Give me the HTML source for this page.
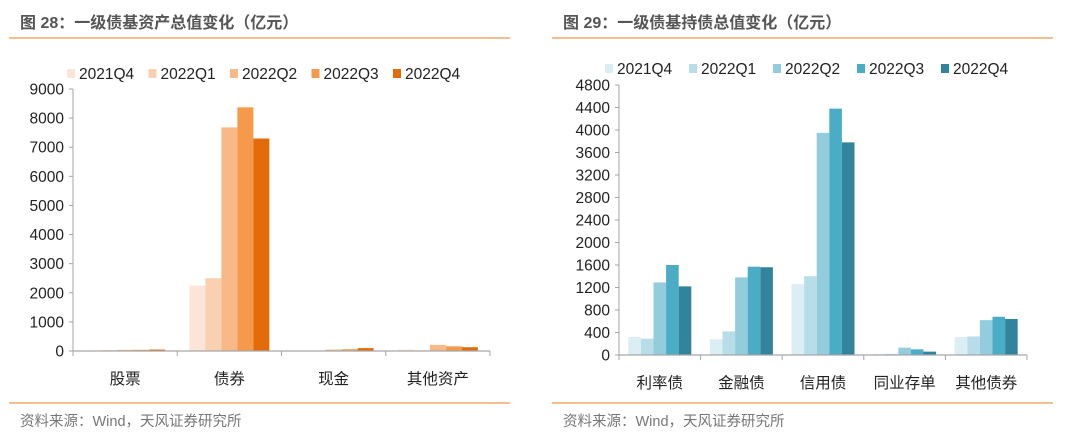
<!DOCTYPE html>
<html><head><meta charset="utf-8">
<style>
body{margin:0;width:1080px;height:434px;background:#fff;overflow:hidden;font-family:"Liberation Sans","Noto Sans CJK SC",sans-serif;}
svg{position:absolute;left:0;top:0}
</style></head>
<body>
<svg id="s" width="1080" height="434" xmlns="http://www.w3.org/2000/svg">
<text x="20" y="28" font-size="16" font-weight="bold" fill="#555" font-family="Liberation Sans,Noto Sans CJK SC,sans-serif">图 28：一级债基资产总值变化（亿元）</text>
<line x1="9" y1="38" x2="510" y2="38" stroke="#f4a86a" stroke-width="1.5"/>
<line x1="9" y1="403" x2="510" y2="403" stroke="#f4a86a" stroke-width="1.5"/>
<text x="20" y="426" font-size="14.5" fill="#777" font-family="Liberation Sans,Noto Sans CJK SC,sans-serif">资料来源：Wind，天风证券研究所</text>
<text x="563" y="28" font-size="16" font-weight="bold" fill="#555" font-family="Liberation Sans,Noto Sans CJK SC,sans-serif">图 29：一级债基持债总值变化（亿元）</text>
<line x1="552" y1="38" x2="1053" y2="38" stroke="#f4a86a" stroke-width="1.5"/>
<line x1="552" y1="403" x2="1053" y2="403" stroke="#f4a86a" stroke-width="1.5"/>
<text x="563" y="426" font-size="14.5" fill="#777" font-family="Liberation Sans,Noto Sans CJK SC,sans-serif">资料来源：Wind，天风证券研究所</text>
</svg>
<script>
const seriesNames=["2021Q4","2022Q1","2022Q2","2022Q3","2022Q4"];
const leftCategories=["股票","债券","现金","其他资产"];
const leftQ4_2021=[20,2250,0,50];
const leftQ1_2022=[30,2500,0,20];
const leftQ2_2022=[40,7680,50,210];
const leftQ3_2022=[40,8370,60,160];
const leftQ4_2022=[50,7300,100,130];
const leftTicks=[0,1000,2000,3000,4000,5000,6000,7000,8000,9000];
const rightCategories=["利率债","金融债","信用债","同业存单","其他债券"];
const rightQ4_2021=[320,280,1260,20,320];
const rightQ1_2022=[290,420,1400,20,330];
const rightQ2_2022=[1290,1380,3950,130,620];
const rightQ3_2022=[1600,1570,4380,100,680];
const rightQ4_2022=[1220,1560,3780,60,640];
const rightTicks=[0,400,800,1200,1600,2000,2400,2800,3200,3600,4000,4400,4800];

const NS="http://www.w3.org/2000/svg";
const svg=document.getElementById('s');
function mk(tag,attrs,parent){const e=document.createElementNS(NS,tag);for(const k in attrs)e.setAttribute(k,attrs[k]);(parent||svg).appendChild(e);return e;}
const FONT="Liberation Sans,Noto Sans CJK SC,sans-serif";

function drawChart(cfg){
  const g=mk('g',{});
  
  
  const yScale=v=>cfg.y0-(v/cfg.ymax)*(cfg.y0-cfg.ytop);
  const n=cfg.cats.length;
  const cw=(cfg.x1-cfg.x0)/n;
  const ya=mk('line',{x1:cfg.x0,y1:cfg.ytop,x2:cfg.x0,y2:cfg.y0,stroke:'#a6a6a6','stroke-width':1},g);
  
  
  cfg.ticks.forEach(t=>{
    const y=yScale(t);
    const tk=mk('line',{x1:cfg.x0-4,y1:y,x2:cfg.x0,y2:y,stroke:'#a6a6a6'},g);
    
    
    const tx=mk('text',{x:cfg.x0-9,y:y+5.5,'text-anchor':'end','font-size':15.5,fill:'#222','font-family':FONT},g);
    tx.textContent=t;
    
    
  });
  const bw=cfg.bw;
  cfg.cats.forEach((c,i)=>{
    const cx=cfg.x0+cw*(i+0.5);
    cfg.series.forEach((arr,s)=>{
      const v=arr[i];
      const x=cx-bw*2.5+bw*s;
      const y=yScale(v);
      const r=mk('rect',{x:x,y:y,width:bw,height:Math.max(0,cfg.y0-y),fill:cfg.colors[s]},g);
      
      
    });
    const lt=mk('text',{x:cx,y:cfg.y0+33,'text-anchor':'middle','font-size':15.5,fill:'#222','font-family':FONT},g);
    lt.textContent=c;
    
    
  });
  const xa=mk('line',{x1:cfg.x0,y1:cfg.y0,x2:cfg.x1,y2:cfg.y0,stroke:'#a6a6a6','stroke-width':1.2},g);
  
  
  for(let i=0;i<=n;i++){
    const x=cfg.x0+cw*i;
    const tk=mk('line',{x1:x,y1:cfg.y0,x2:x,y2:cfg.y0+5,stroke:'#a6a6a6'},g);
    
    
  }
  seriesNames.forEach((nm,s)=>{
    const lx=cfg.legX+s*cfg.legStep;
    const sq=mk('rect',{x:lx,y:cfg.legY-10,width:8,height:9,fill:cfg.colors[s]},g);
    
    
    const t=mk('text',{x:lx+12,y:cfg.legY,'font-size':15.5,fill:'#222','font-family':FONT},g);
    t.textContent=nm;
    
    
  });
}
drawChart({prefix:'left',cats:leftCategories,series:[leftQ4_2021,leftQ1_2022,leftQ2_2022,leftQ3_2022,leftQ4_2022],
  colors:['#fce5d6','#f9d0b0','#f7b985','#f5994b','#e36c0a'],ticks:leftTicks,ymax:9000,
  x0:73,x1:490,y0:351,ytop:89,bw:16,legX:67,legStep:81.5,legY:79});
drawChart({prefix:'right',cats:rightCategories,series:[rightQ4_2021,rightQ1_2022,rightQ2_2022,rightQ3_2022,rightQ4_2022],
  colors:['#daeef3','#b7dee8','#93cddd','#4bacc6','#31849b'],ticks:rightTicks,ymax:4800,
  x0:619,x1:1027,y0:355,ytop:85,bw:12.6,legX:605,legStep:84,legY:74});
</script>
</body></html>
